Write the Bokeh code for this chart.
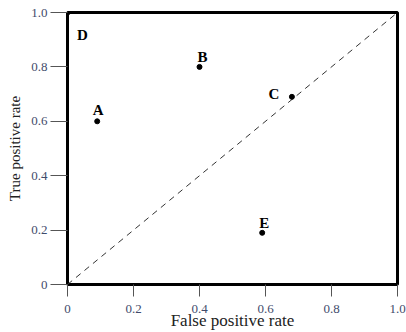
from bokeh.plotting import figure
from bokeh.models import FixedTicker, ColumnDataSource
from bokeh.core.properties import value
from bokeh.embed import file_html
from bokeh.resources import INLINE

# Data
names = ["D", "A", "B", "C", "E"]
fpr = [0.0, 0.09, 0.40, 0.68, 0.59]
tpr = [1.0, 0.60, 0.80, 0.69, 0.19]
tick_values = [0, 0.2, 0.4, 0.6, 0.8, 1.0]
tick_labels = ["0", "0.2", "0.4", "0.6", "0.8", "1.0"]
diag_x = [0, 1]
diag_y = [0, 1]
x_title = "False positive rate"
y_title = "True positive rate"

# label offsets in pixels (style)
lab_dx = [15, 1, 3, -18, 2]
lab_dy = [22, -11, -10, -3, -10]

SERIF = "Liberation Serif"
TICK_COLOR = "#3f4b6b"

p = figure(width=406, height=332, x_range=(0, 1), y_range=(0, 1),
           output_backend="svg", toolbar_location=None, tools="",
           min_border_left=67, min_border_right=9, min_border_top=12,
           min_border_bottom=48)
p.grid.visible = False
p.outline_line_color = "black"
p.outline_line_width = 3
p.background_fill_color = "white"
p.border_fill_color = "white"

for ax in (p.xaxis, p.yaxis):
    ax.ticker = FixedTicker(ticks=tick_values)
    ax.major_label_overrides = {v: l for v, l in zip(tick_values, tick_labels)}
    ax.minor_tick_line_color = None
    ax.axis_line_color = None
    ax.major_tick_line_color = "#555555"
    ax.major_tick_in = 0
    ax.major_label_text_font = SERIF
    ax.major_label_text_font_size = "13px"
    ax.major_label_text_color = TICK_COLOR
    ax.axis_label_text_font = SERIF
    ax.axis_label_text_font_style = "normal"
    ax.axis_label_text_color = "#222222"

p.xaxis.major_tick_out = 12
p.xaxis.major_label_standoff = 8
p.xaxis.axis_label = x_title
p.xaxis.axis_label_text_font_size = "17px"
p.xaxis.axis_label_standoff = -5
p.yaxis.major_tick_out = 17
p.yaxis.major_label_standoff = 3
p.yaxis.axis_label = y_title
p.yaxis.axis_label_text_font_size = "15px"
p.yaxis.axis_label_standoff = 5

# diagonal
p.line(diag_x, diag_y, line_color="#333333", line_width=1, line_dash="6 5")

src = ColumnDataSource(dict(x=fpr, y=tpr, name=names, dx=lab_dx, dy=lab_dy))
p.scatter("x", "y", source=src, size=5, color="black", marker="circle")
p.text("x", "y", text="name", source=src, x_offset="dx", y_offset="dy",
       text_font=value(SERIF), text_font_style="bold", text_font_size="15px",
       text_align="center", text_baseline="middle", text_color="black")

open("out.html", "w").write(file_html(p, INLINE))
